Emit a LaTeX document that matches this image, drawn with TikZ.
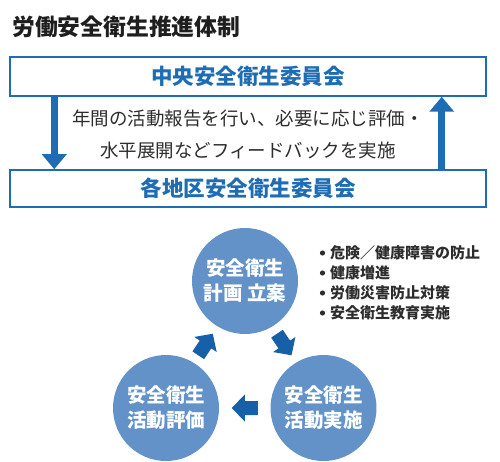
\documentclass[tikz,border=0pt]{standalone}
\usepackage{fontspec}
\setmainfont{Noto Sans CJK JP}
\usetikzlibrary{arrows.meta,calc}
\definecolor{boxblue}{RGB}{30,108,180}
\definecolor{circblue}{RGB}{99,146,200}
\definecolor{arrblue}{RGB}{22,96,168}
\definecolor{txtgray}{RGB}{45,45,45}
\definecolor{titlecol}{RGB}{30,30,30}
\begin{document}
\begin{tikzpicture}[x=1pt,y=-1pt,
  committee/.style={draw=boxblue,line width=1.5pt,minimum width=476pt,inner sep=0pt,text=boxblue,font=\bfseries\fontsize{21.5}{24}\selectfont},
  phase/.style={circle,fill=circblue,minimum size=106pt,inner sep=0pt,text=white,align=center,font=\bfseries\fontsize{19.5}{25}\selectfont},
  flow/.style={line width=7pt,draw=boxblue,-{Triangle[width=24pt,length=15pt]}},
  cyc/.pic={\fill[arrblue] (-13,-7) -- (0,-7) -- (0,-13.5) -- (13,0) -- (0,13.5) -- (0,7) -- (-13,7) -- cycle;}
]
\useasboundingbox (0,0) rectangle (500,462);
\node[anchor=west,inner sep=0pt,text=titlecol,font=\bfseries\fontsize{22.8}{26}\selectfont] (title) at (12,27) {労働安全衛生推進体制};
\node[committee,minimum height=39pt] (central) at (248,76.5) {中央安全衛生委員会};
\node[committee,minimum height=37pt] (regional) at (248,188.5) {各地区安全衛生委員会};
\draw[flow] ([xshift=45pt]central.south west) -- ([xshift=45pt]regional.north west);
\draw[flow] ([xshift=-45pt]regional.north east) -- ([xshift=-45pt]central.south east);
\node[align=center,text=txtgray,inner sep=0pt,font=\fontsize{18.5}{32}\selectfont] (note) at (248,134) {年間の活動報告を行い、必要に応じ評価・\\水平展開などフィードバックを実施};
\node[phase] (plan) at (245,281) {安全衛生\\計画 立案};
\node[phase] (check) at (166,408) {安全衛生\\活動評価};
\node[phase] (do) at (323.5,408) {安全衛生\\活動実施};
\pic[rotate=56] at ($(check)!0.5!(plan)$) {cyc};
\pic[rotate=-56] at ($(plan)!0.5!(do)$) {cyc};
\pic[rotate=180] at ($(do)!0.5!(check)$) {cyc};
\node[anchor=west,align=left,text=txtgray,inner sep=0pt,font=\bfseries\fontsize{15}{20}\selectfont] (aims) at (330,283) {危険／健康障害の防止\\健康増進\\労働災害防止対策\\安全衛生教育実施};
\foreach \k in {0,...,3} \fill[txtgray] ($(aims.west)+(-7.5,-30+20*\k)$) circle (2.6);
\end{tikzpicture}
\end{document}
